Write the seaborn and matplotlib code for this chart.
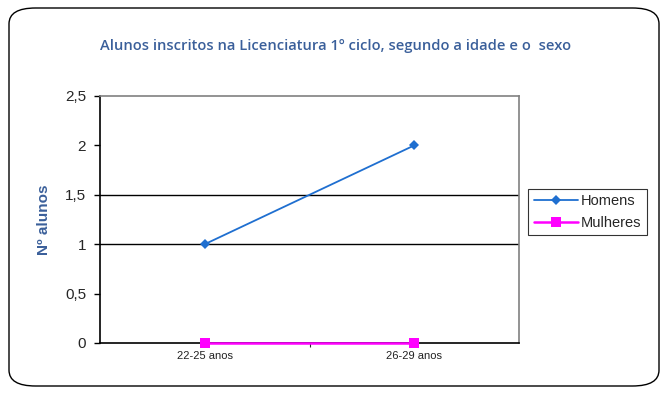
import pandas as pd
import matplotlib.pyplot as plt
import seaborn as sns
from matplotlib.patches import FancyBboxPatch

# === Data ===
idades = ["22-25 anos", "26-29 anos"]
homens = [1, 2]
mulheres = [0, 0]

df = pd.DataFrame({
    "Idade": idades * 2,
    "Alunos": homens + mulheres,
    "Sexo": ["Homens"] * len(idades) + ["Mulheres"] * len(idades),
})

sns.set_style("white")
plt.rcParams["font.family"] = ["Liberation Sans", "DejaVu Sans"]

fig = plt.figure(figsize=(6.64, 3.96), dpi=100)
ax = fig.add_axes([100 / 664, 1 - 343 / 396, 419 / 664, 247 / 396])

palette = {"Homens": "#1f6fd0", "Mulheres": "#ff00ff"}
markers = {"Homens": "D", "Mulheres": "s"}
sizes = {"Homens": 5.5, "Mulheres": 7}

for sexo, sub in df.groupby("Sexo"):
    sns.lineplot(data=sub, x="Idade", y="Alunos", ax=ax, color=palette[sexo],
                 marker=markers[sexo], markersize=sizes[sexo], markeredgewidth=0,
                 linewidth=1.3 if sexo == "Homens" else 1.8, label=sexo,
                 clip_on=False, zorder=3)

ax.set_xlim(-0.5, 1.5)
ax.set_ylim(0, 2.5)
ax.set_yticks([0, 0.5, 1, 1.5, 2, 2.5])
ax.set_yticklabels(["0", "0,5", "1", "1,5", "2", "2,5"], fontsize=11)
ax.set_xticks([0, 1])
ax.set_xticklabels(idades, fontsize=8, color="#222222")
ax.set_xticks([0.5], minor=True)

# only these two gridlines show in the original
for v in [1, 1.5]:
    ax.axhline(v, color="black", linewidth=1, zorder=1)

ax.tick_params(axis="y", which="major", direction="out", length=4, width=1,
               color="black", left=True, pad=6)
ax.tick_params(axis="x", which="major", length=0, pad=6)
ax.tick_params(axis="x", which="minor", direction="out", length=3, width=0.8,
               bottom=True)

ax.spines["left"].set_color("black")
ax.spines["bottom"].set_color("black")
ax.spines["top"].set_color("#808080")
ax.spines["right"].set_color("#808080")
for s in ax.spines.values():
    s.set_linewidth(1.2)

ax.set_xlabel("")
ax.set_ylabel("Nº alunos", fontsize=11, fontweight="bold", color="#3a5f9a",
              labelpad=10)

fig.text(336 / 664, 1 - 46 / 396,
         "Alunos inscritos na Licenciatura 1º ciclo, segundo a idade e o  sexo",
         ha="center", va="center", fontsize=10.6, color="#3a5f9a",
         family=["Open Sans", "DejaVu Sans"], fontweight="semibold")

leg = ax.legend(loc="center left", bbox_to_anchor=(528 / 664, 1 - 212 / 396),
                bbox_transform=fig.transFigure, borderaxespad=0, frameon=True,
                fancybox=False, fontsize=10.5, handlelength=3.0, borderpad=0.4,
                labelspacing=0.5, handletextpad=0.2)
leg.get_frame().set_edgecolor("black")
leg.get_frame().set_linewidth(0.8)

# rounded outer border
fig.patches.append(FancyBboxPatch((9 / 664, 10 / 396), 650 / 664, 378 / 396,
                                  boxstyle="round,pad=0,rounding_size=0.04",
                                  transform=fig.transFigure, fill=False,
                                  edgecolor="black", linewidth=1.0))

plt.savefig("out.png", dpi=100)
